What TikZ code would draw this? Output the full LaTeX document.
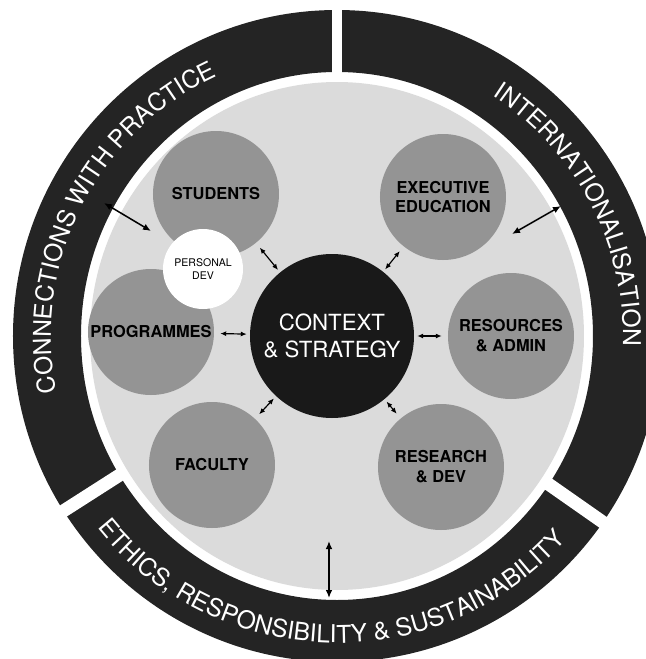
\documentclass[tikz,border=0pt]{standalone}
\usepackage{fontspec}
\setmainfont{TeX Gyre Heros}
\usetikzlibrary{arrows.meta,decorations.text}
\newcommand\ringfont{\fontsize{21}{25}\selectfont}

\begin{document}
\begin{tikzpicture}[
  x=0.3mm,y=0.3mm,
  hub/.style={circle,fill=black!90,text=white,align=center,inner sep=0pt,
    font=\fontsize{19}{23}\selectfont,minimum size=49.2mm},
  area/.style={circle,fill=black!42,align=center,inner sep=0pt,
    font=\bfseries\fontsize{14}{17}\selectfont,minimum size=37.8mm},
  minor/.style={circle,fill=white,align=center,inner sep=0pt,
    font=\fontsize{9}{10.5}\selectfont,minimum size=24mm},
  link/.style={{Latex[length=1.8mm,width=1.5mm]}-{Latex[length=1.8mm,width=1.5mm]},
    line width=1pt,shorten <=1.8mm,shorten >=0.9mm},
  spoke/.style={{Latex[length=2.4mm,width=2mm]}-{Latex[length=2.4mm,width=2mm]},
    line width=1.3pt},
  gap/.style={draw=white,line width=3.9mm},
  band/.style={decorate,decoration={text along path,text align=center,text color=white}}
]
\useasboundingbox (-337,-323) rectangle (309,336);
\clip (-337,-323) rectangle (309,336);
\fill[black!86,even odd rule] (0,0) ellipse[x radius=324,y radius=326]
  (0,0) ellipse[x radius=256,y radius=264];
\draw[gap,line width=3.1mm] (90:240) -- (90:340);
\draw[gap] (212.6:240) -- (212.6:340);
\draw[gap] (325:240) -- (325:340);
\fill[black!14] (0,0) ellipse[x radius=247,y radius=254];
\path[band,decoration={text={|\ringfont|CONNECTIONS WITH PRACTICE}}]
  (197:286) arc[start angle=197,end angle=109,radius=286];
\path[band,decoration={text={|\ringfont|INTERNATIONALISATION}}]
  (70:286) arc[start angle=70,end angle=-15,radius=286];
\path[band,decoration={text={|\ringfont|ETHICS, RESPONSIBILITY {\&} SUSTAINABILITY}}]
  (214:307) arc[start angle=214,end angle=323,radius=307];
\node[area] (students) at (-121,142) {STUDENTS};
\node[area] (exec) at (106,139) {EXECUTIVE\\EDUCATION};
\node[area] (programmes) at (-186,4) {PROGRAMMES};
\node[area] (resources) at (174,0) {RESOURCES\\\& ADMIN};
\node[area] (faculty) at (-125,-129) {FACULTY};
\node[area] (research) at (104,-131) {RESEARCH\\\& DEV};
\node[minor] (personal) at (-134,67) {PERSONAL\\DEV};
\node[hub] (context) at (-5,0) {CONTEXT\\\& STRATEGY};
\coordinate (practiceIn) at (-186,105);
\coordinate (practiceOut) at (-233,133);
\coordinate (intlIn) at (175,102);
\coordinate (intlOut) at (224,130);
\coordinate (ethicsIn) at (-8,-205);
\coordinate (ethicsOut) at (-8,-262);
\draw[link] (students) -- (context);
\draw[link] (exec) -- (context);
\draw[link] (programmes) -- (context);
\draw[link] (resources) -- (context);
\draw[link] (faculty) -- (context);
\draw[link] (research) -- (context);
\draw[spoke] (practiceIn) -- (practiceOut);
\draw[spoke] (intlIn) -- (intlOut);
\draw[spoke] (ethicsIn) -- (ethicsOut);
\end{tikzpicture}
\end{document}
